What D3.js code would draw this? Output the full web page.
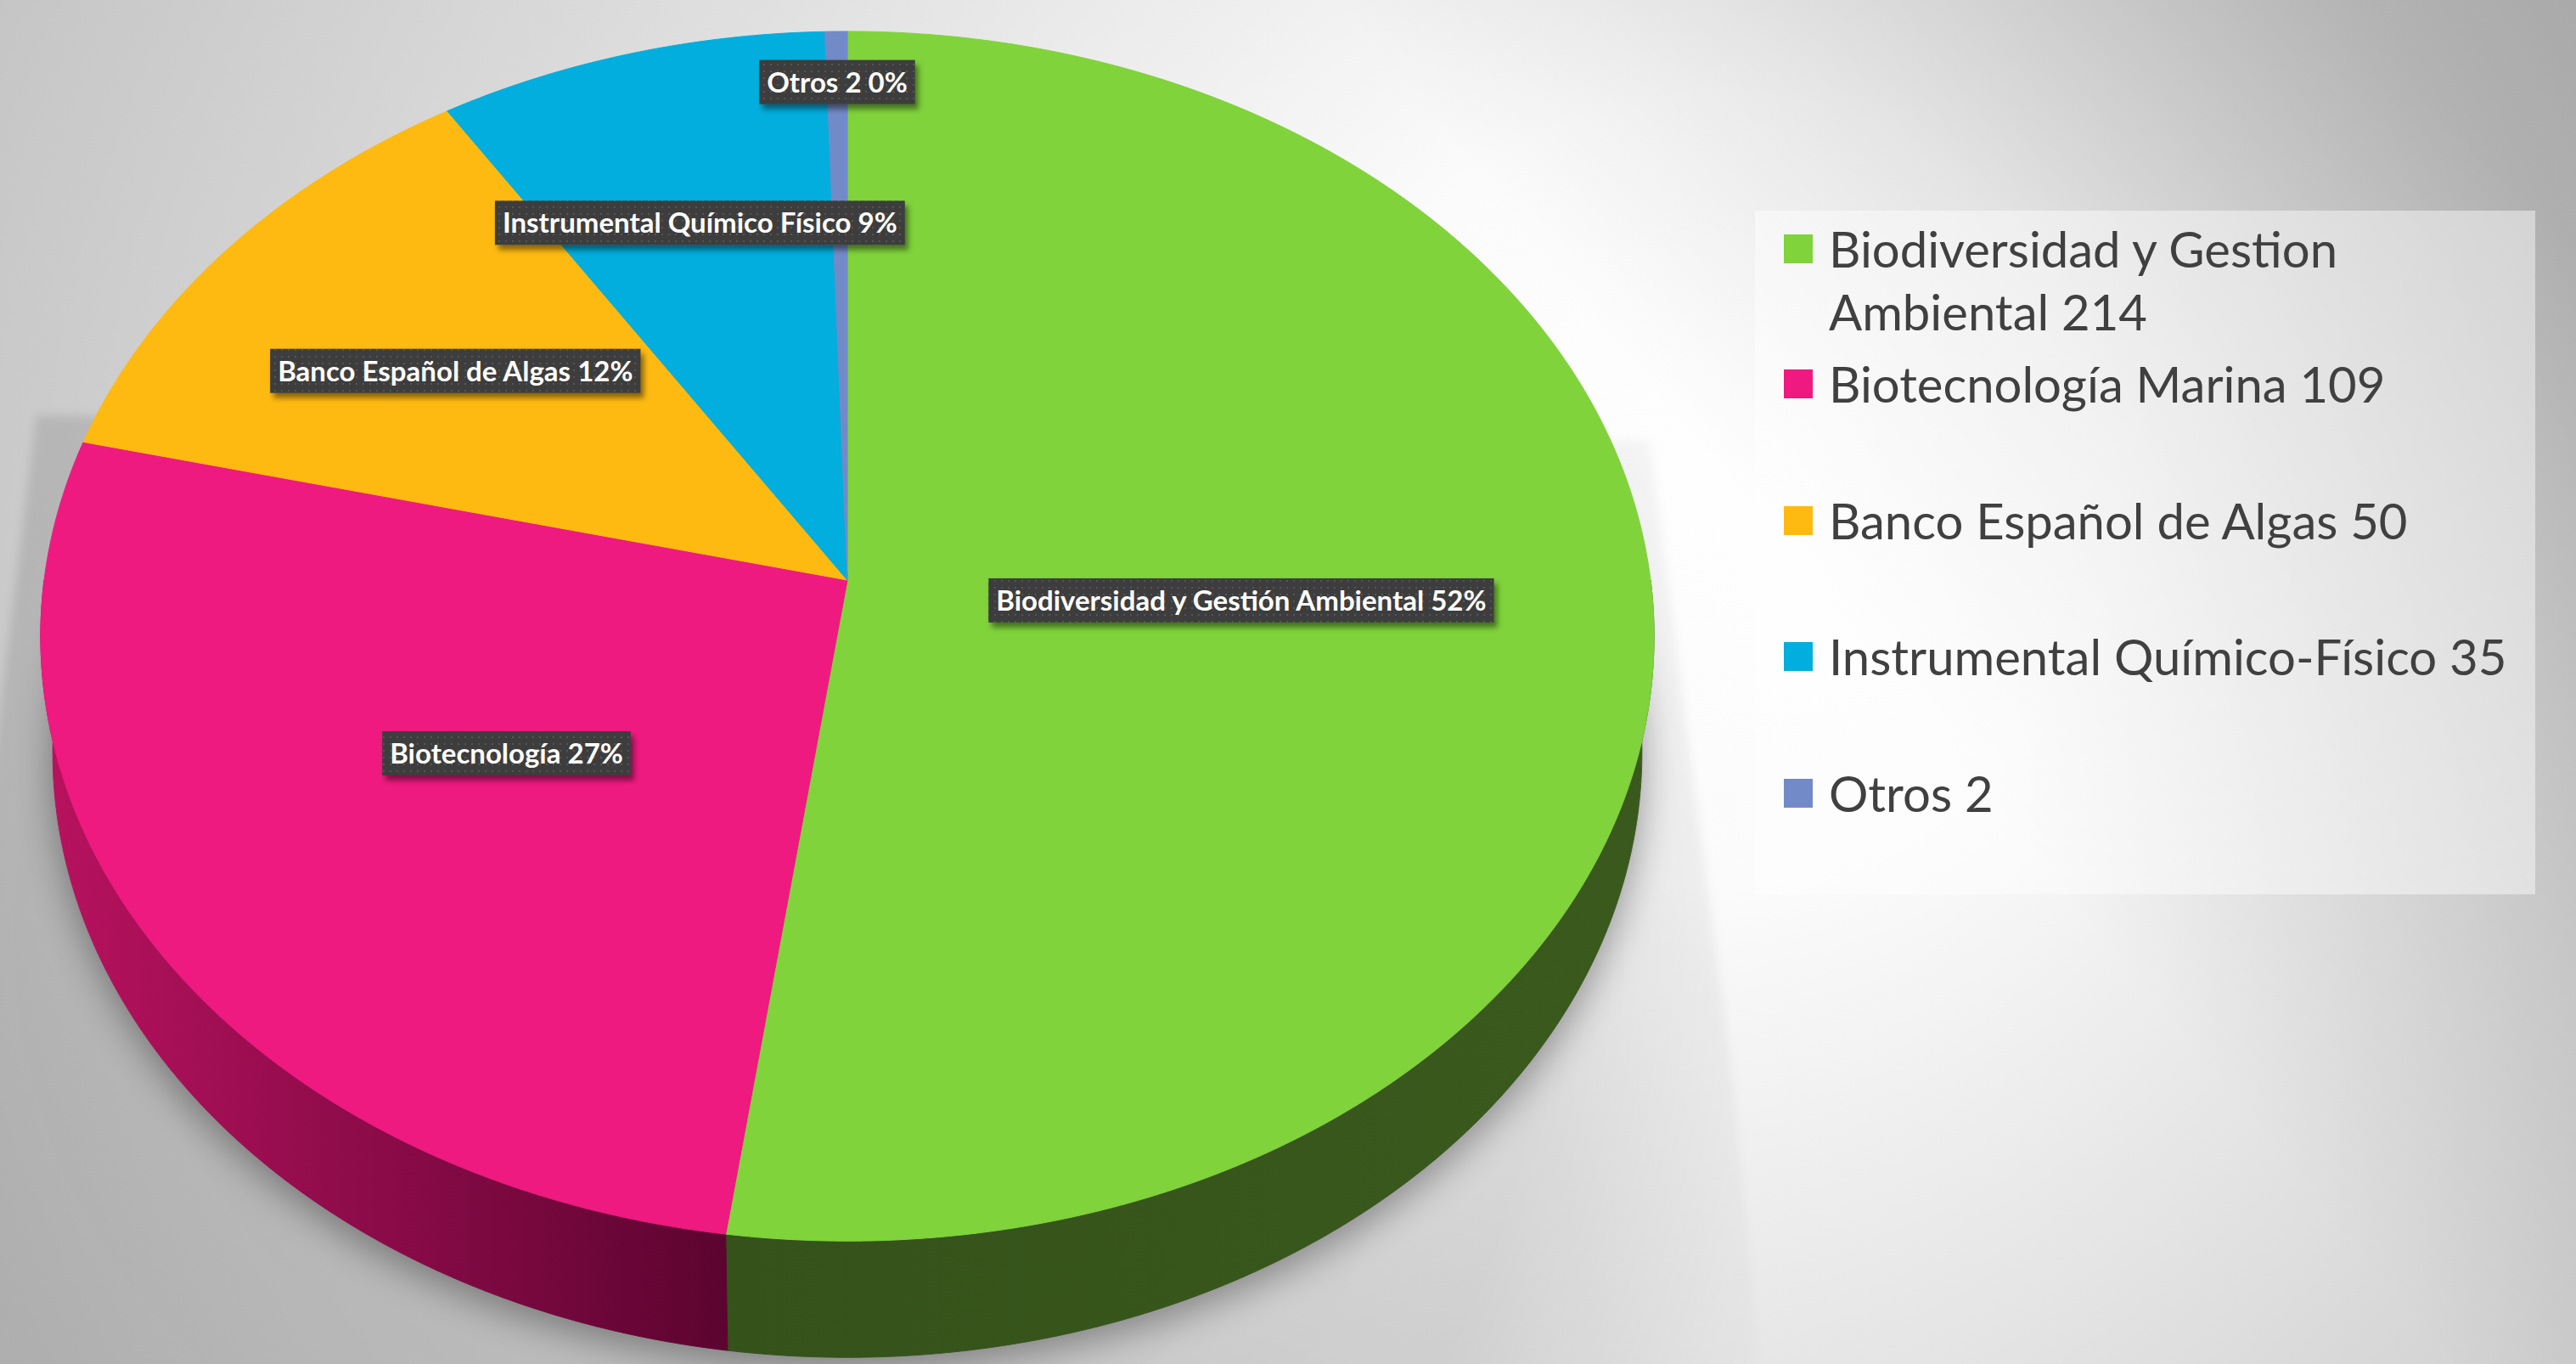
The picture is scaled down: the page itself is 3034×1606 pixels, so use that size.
<!DOCTYPE html>
<html><head><meta charset="utf-8">
<script src="https://cdn.jsdelivr.net/npm/d3@7"></script>
<style>html,body{margin:0;padding:0;overflow:hidden;background:#fff}</style>
</head><body>
<svg id="c" width="3034" height="1606" xmlns="http://www.w3.org/2000/svg"></svg>
<script>
// ---- data ----
const categories  = ["Biodiversidad y Gestión Ambiental", "Biotecnología", "Banco Español de Algas", "Instrumental Químico Físico", "Otros 2"];
const legendNames = ["Biodiversidad y Gestion Ambiental", "Biotecnología Marina", "Banco Español de Algas", "Instrumental Químico-Físico", "Otros"];
const values      = [214, 109, 50, 35, 2];
const colors      = ["#80d33b", "#ee1a80", "#feba10", "#01aedd", "#738ac8"];
const sideDark    = ["#34521a", "#5c0430"];
const sideLight   = ["#3a5a1d", "#b8125f"];

// ---- layout ----
const W = 3034, H = 1606;
const CX = 998, CY = 683, RA = 946, RB = 706, K = -0.0928, DEPTH = 137, BSCALE = 0.985;
const labelRadius = [0.49, 0.5, 0.62, 0.66, 0.9];

const svg = d3.select("#c");
const defs = svg.append("defs");

// background
const bg = defs.append("radialGradient").attr("id", "bg").attr("gradientUnits", "userSpaceOnUse")
  .attr("cx", 1650).attr("cy", 750).attr("r", 1850).attr("fx", 2150).attr("fy", 520);
bg.append("stop").attr("offset", 0).attr("stop-color", "#ffffff");
bg.append("stop").attr("offset", 0.25).attr("stop-color", "#fbfbfb");
bg.append("stop").attr("offset", 1).attr("stop-color", "#c4c4c4");
svg.append("rect").attr("width", W).attr("height", H).attr("fill", "url(#bg)");
const rg = defs.append("linearGradient").attr("id", "rg").attr("gradientUnits", "userSpaceOnUse")
  .attr("x1", 2300).attr("y1", 900).attr("x2", 3034).attr("y2", 300);
rg.append("stop").attr("offset", 0).attr("stop-color", "#000").attr("stop-opacity", 0);
rg.append("stop").attr("offset", 1).attr("stop-color", "#000").attr("stop-opacity", 0.2);
svg.append("rect").attr("width", W).attr("height", H).attr("fill", "url(#rg)");

// filters
const blur = (id, sd) => defs.append("filter").attr("id", id).attr("x", "-20%").attr("y", "-20%").attr("width", "140%").attr("height", "140%")
  .append("feGaussianBlur").attr("stdDeviation", sd);
blur("b1", 22); blur("b2", 6);
const ds = defs.append("filter").attr("id", "ds").attr("x", "-10%").attr("y", "-30%").attr("width", "130%").attr("height", "180%");
ds.append("feDropShadow").attr("dx", 4).attr("dy", 6).attr("stdDeviation", 3).attr("flood-color", "#000").attr("flood-opacity", 0.45);

// label pattern
const pat = defs.append("pattern").attr("id", "dots").attr("width", 8).attr("height", 8).attr("patternUnits", "userSpaceOnUse");
pat.append("rect").attr("width", 8).attr("height", 8).attr("fill", "#3d3d3d");
pat.append("rect").attr("x", 3).attr("y", 3).attr("width", 2).attr("height", 2).attr("fill", "#545454");

// projection of a point on the disc (angle clockwise from 12 o'clock, radius fraction)
function proj(rad, f) {
  const X = f * Math.sin(rad), Z = -f * Math.cos(rad), d = 1 + K * Z;
  return [CX + RA * X / d, CY + RB * Z / d];
}
function projB(rad) {
  const p = proj(rad, 1);
  return [CX + (p[0] - CX) * BSCALE, p[1] + DEPTH];
}
function arcPts(a0, a1, fn) {
  const n = Math.max(2, Math.ceil(Math.abs(a1 - a0) / (Math.PI / 720)));
  return d3.range(n + 1).map(i => fn(a0 + (a1 - a0) * i / n));
}

const arcs = d3.pie().sort(null).value(d => d)(values);
const line = d3.line();

// shadows
const fullB = arcPts(0, 2 * Math.PI, projB);
const L = proj(264.7 * Math.PI / 180, 1), R = proj(95.3 * Math.PI / 180, 1);
const sg = defs.append("radialGradient").attr("id", "sg").attr("gradientUnits", "userSpaceOnUse")
  .attr("cx", 700).attr("cy", 1100).attr("r", 1500);
sg.append("stop").attr("offset", 0).attr("stop-color", "#000").attr("stop-opacity", 0.13);
sg.append("stop").attr("offset", 0.75).attr("stop-color", "#000").attr("stop-opacity", 0.1);
sg.append("stop").attr("offset", 1).attr("stop-color", "#000").attr("stop-opacity", 0);
svg.append("path")
  .attr("d", line([[L[0] - 5, L[1] - 260], [L[0] - 150, H + 60], [R[0] + 130, H + 60], [R[0] + 90, 1250], [R[0] - 5, R[1] - 230]]) + "Z")
  .attr("fill", "url(#sg)").attr("filter", "url(#b2)");
svg.append("path").attr("d", line(fullB) + "Z").attr("transform", "translate(0,14)")
  .attr("fill", "#000").attr("opacity", 0.35).attr("filter", "url(#b1)");

// sides
const vis0 = 90 * Math.PI / 180, vis1 = 270 * Math.PI / 180;
arcs.forEach((a, i) => {
  const s = Math.max(a.startAngle, vis0), e = Math.min(a.endAngle, vis1);
  if (e <= s) return;
  const top = arcPts(s, e, t => proj(t, 1));
  const bot = arcPts(e, s, projB);
  const gid = "side" + i;
  const xs = top.concat(bot).map(p => p[0]);
  const g = defs.append("linearGradient").attr("id", gid).attr("gradientUnits", "userSpaceOnUse")
    .attr("x1", d3.min(xs)).attr("x2", d3.max(xs)).attr("y1", 0).attr("y2", 0);
  const lightLeft = i === 1;
  g.append("stop").attr("offset", 0).attr("stop-color", lightLeft ? sideLight[1] : sideDark[0]);
  g.append("stop").attr("offset", 1).attr("stop-color", lightLeft ? sideDark[1] : sideLight[0]);
  svg.append("path").attr("d", line(top.concat(bot)) + "Z").attr("fill", `url(#${gid})`)
    .attr("stroke", `url(#${gid})`).attr("stroke-width", 1);
});

// top faces
arcs.forEach((a, i) => {
  const pts = [[CX, CY]].concat(arcPts(a.startAngle, a.endAngle, t => proj(t, 1)));
  svg.append("path").attr("d", line(pts) + "Z").attr("fill", colors[i])
    .attr("stroke", colors[i]).attr("stroke-width", 1).attr("stroke-linejoin", "round");
});

// data labels
const total = d3.sum(values);
const LABEL_FONT = 33, PADX = 9, BOXH = 52;
arcs.forEach((a, i) => {
  const mid = (a.startAngle + a.endAngle) / 2;
  const [x, y] = proj(mid, labelRadius[i]);
  const g = svg.append("g");
  const txt = categories[i] + " " + Math.round(values[i] / total * 100) + "%";
  const t = g.append("text").attr("x", x).attr("y", y + LABEL_FONT * 0.36).attr("text-anchor", "middle")
    .attr("font-family", "Lato, 'Open Sans', sans-serif").attr("font-weight", 700).attr("font-size", LABEL_FONT)
    .attr("fill", "#ffffff").text(txt);
  const w = t.node().getComputedTextLength();
  g.insert("rect", "text").attr("x", x - w / 2 - PADX).attr("y", y - BOXH / 2).attr("width", w + 2 * PADX).attr("height", BOXH)
    .attr("fill", "url(#dots)").attr("filter", "url(#ds)");
});

// legend
const LG = {x: 2067, y: 248, w: 919, h: 805, sq: 34, sqx: 2101, tx: 2154, font: 58, lh: 74, maxW: 820};
svg.append("rect").attr("x", LG.x).attr("y", LG.y).attr("width", LG.w).attr("height", LG.h)
  .attr("fill", "#ffffff").attr("opacity", 0.45);
const baselines = [315, 474, 635, 795, 956];
values.forEach((v, i) => {
  const words = (legendNames[i] + " " + v).split(" ");
  const lines = [];
  let cur = "";
  const probe = svg.append("text").attr("font-family", "Lato, 'Open Sans', sans-serif").attr("font-size", LG.font);
  words.forEach(wd => {
    const test = cur ? cur + " " + wd : wd;
    probe.text(test);
    if (probe.node().getComputedTextLength() > LG.maxW && cur) { lines.push(cur); cur = wd; } else cur = test;
  });
  lines.push(cur);
  probe.remove();
  svg.append("rect").attr("x", LG.sqx).attr("y", baselines[i] - 39).attr("width", LG.sq).attr("height", LG.sq).attr("fill", colors[i]);
  const t = svg.append("text").attr("font-family", "Lato, 'Open Sans', sans-serif").attr("font-size", LG.font).attr("fill", "#404040");
  lines.forEach((ln, j) => t.append("tspan").attr("x", LG.tx).attr("y", baselines[i] + j * LG.lh).text(ln));
});
</script>
</body></html>
